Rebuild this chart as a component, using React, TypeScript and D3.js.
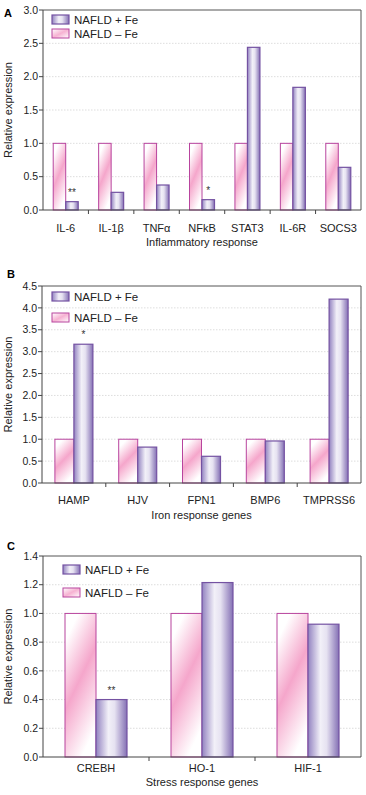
import React from 'react'
import * as d3 from 'd3'

// series names
const seriesNames = ['NAFLD + Fe', 'NAFLD \u2013 Fe']

// panel A: inflammatory response
const inflammCats = ['IL-6', 'IL-1\u03B2', 'TNF\u03B1', 'NFkB', 'STAT3', 'IL-6R', 'SOCS3']
const inflammMinusFe = [1, 1, 1, 1, 1, 1, 1]
const inflammPlusFe = [0.125, 0.265, 0.375, 0.155, 2.44, 1.84, 0.64]
const inflammSig = ['**', '', '', '*', '', '', '']
const inflammTicks = [0, 0.5, 1.0, 1.5, 2.0, 2.5, 3.0]

// panel B: iron response genes
const ironCats = ['HAMP', 'HJV', 'FPN1', 'BMP6', 'TMPRSS6']
const ironMinusFe = [1, 1, 1, 1, 1]
const ironPlusFe = [3.17, 0.82, 0.61, 0.96, 4.2]
const ironSig = ['*', '', '', '', '']
const ironTicks = [0, 0.5, 1.0, 1.5, 2.0, 2.5, 3.0, 3.5, 4.0, 4.5]

// panel C: stress response genes
const stressCats = ['CREBH', 'HO-1', 'HIF-1']
const stressMinusFe = [1, 1, 1]
const stressPlusFe = [0.4, 1.215, 0.925]
const stressSig = ['**', '', '']
const stressTicks = [0, 0.2, 0.4, 0.6, 0.8, 1.0, 1.2, 1.4]

const FONT = '"Liberation Sans Narrow", "Liberation Sans", Arial, sans-serif'
const PINK_STROKE = '#b8449e'
const PURPLE_STROKE = '#7452a2'

const Panel = ({ letter, letterPos, cats, minus, plus, sig, ticks, title, box, barW, legend, tickDy, titleDy }) => {
  const { left, right, top, bottom } = box
  const x = d3.scaleBand().domain(cats).range([left, right])
  const y = d3.scaleLinear().domain([0, ticks[ticks.length - 1]]).range([bottom, top])
  const fmt = d3.format('.1f')
  const mid = (top + bottom) / 2

  return (
    <g fontFamily={FONT}>
      <text x={letterPos[0]} y={letterPos[1]} fontSize={11} fontWeight="bold" fontFamily="Liberation Sans, Arial">{letter}</text>
      {/* grid */}
      {ticks.slice(1, -1).map(t => (
        <line key={'g' + t} x1={left} x2={right} y1={y(t)} y2={y(t)} stroke="#d4d4d4" strokeWidth={0.8} strokeDasharray="1.5,1.5" />
      ))}
      {/* bars */}
      {cats.map((c, i) => {
        const cx = x(c) + x.bandwidth() / 2
        return (
          <g key={c}>
            <rect x={cx - barW} y={y(minus[i])} width={barW} height={bottom - y(minus[i])}
              fill="url(#pinkGrad)" stroke={PINK_STROKE} strokeWidth={1} />
            <rect x={cx} y={y(plus[i])} width={barW} height={bottom - y(plus[i])}
              fill="url(#purpleGrad)" stroke={PURPLE_STROKE} strokeWidth={1.2} />
            {sig[i] && (
              <text x={cx + barW / 2} y={y(plus[i]) - 6} fontSize={10} textAnchor="middle" fill="#333">{sig[i]}</text>
            )}
          </g>
        )
      })}
      {/* frame */}
      <line x1={left} x2={right} y1={top} y2={top} stroke="#555" strokeWidth={1} />
      <line x1={right} x2={right} y1={top} y2={bottom} stroke="#555" strokeWidth={1} />
      <line x1={left} x2={left} y1={top} y2={bottom} stroke="#444" strokeWidth={1} />
      <line x1={left} x2={right} y1={bottom} y2={bottom} stroke="#444" strokeWidth={1} />
      {/* y axis */}
      {ticks.map(t => (
        <g key={'y' + t}>
          <line x1={left - 4} x2={left} y1={y(t)} y2={y(t)} stroke="#444" />
          <text x={left - 5} y={y(t)} dy="0.35em" fontSize={10.5} textAnchor="end" fill="#222">{fmt(t)}</text>
        </g>
      ))}
      {/* x axis */}
      {cats.slice(1).map(c => (
        <line key={'xt' + c} x1={x(c)} x2={x(c)} y1={bottom} y2={bottom + 4} stroke="#444" />
      ))}
      {cats.map(c => (
        <text key={'xl' + c} x={x(c) + x.bandwidth() / 2} y={bottom + tickDy} fontSize={11} textAnchor="middle" fill="#222">{c}</text>
      ))}
      <text x={(left + right) / 2} y={bottom + titleDy} fontSize={11} textAnchor="middle" fill="#222">{title}</text>
      <text transform={`translate(12,${mid}) rotate(-90)`} fontSize={11} textAnchor="middle" fill="#222">Relative expression</text>
      {/* legend */}
      <g>
        <rect x={legend.x} y={legend.y} width={17} height={9} fill="url(#purpleGrad)" stroke={PURPLE_STROKE} strokeWidth={1.2} />
        <text x={legend.x + 22} y={legend.y + 4.5} dy="0.35em" fontSize={11.5} fill="#222">{seriesNames[0]}</text>
        <rect x={legend.x} y={legend.y + legend.gap} width={17} height={9} fill="url(#pinkGradH)" stroke={PINK_STROKE} strokeWidth={1} />
        <text x={legend.x + 22} y={legend.y + legend.gap + 4.5} dy="0.35em" fontSize={11.5} fill="#222">{seriesNames[1]}</text>
      </g>
    </g>
  )
}

const App = () => {
  return (
    <svg width={366} height={795} style={{ position: 'absolute', left: 0, top: 0, background: '#fff' }}>
      <defs>
        <linearGradient id="pinkGrad" x1="0.3" y1="0" x2="0.75" y2="1">
          <stop offset="0.05" stopColor="#ffffff" />
          <stop offset="0.45" stopColor="#f5a6cb" />
          <stop offset="0.92" stopColor="#ffffff" />
        </linearGradient>
        <linearGradient id="pinkGradH" x1="0" y1="0" x2="1" y2="1">
          <stop offset="0" stopColor="#ffffff" />
          <stop offset="0.5" stopColor="#f6b2d2" />
          <stop offset="1" stopColor="#ffffff" />
        </linearGradient>
        <linearGradient id="purpleGrad" x1="0" y1="0" x2="1" y2="0">
          <stop offset="0" stopColor="#9282c0" />
          <stop offset="0.4" stopColor="#f2f0f8" />
          <stop offset="0.6" stopColor="#e6e2f1" />
          <stop offset="1" stopColor="#8470b4" />
        </linearGradient>
      </defs>
      <rect width={366} height={795} fill="#fff" />
      <Panel letter="A" letterPos={[4, 17]} cats={inflammCats} minus={inflammMinusFe} plus={inflammPlusFe}
        sig={inflammSig} ticks={inflammTicks} title="Inflammatory response"
        box={{ left: 43, right: 361, top: 10, bottom: 210 }} barW={12.5}
        legend={{ x: 52, y: 15, gap: 14 }} tickDy={22} titleDy={36} />
      <Panel letter="B" letterPos={[7, 278]} cats={ironCats} minus={ironMinusFe} plus={ironPlusFe}
        sig={ironSig} ticks={ironTicks} title="Iron response genes"
        box={{ left: 42, right: 361, top: 286, bottom: 483 }} barW={19}
        legend={{ x: 52, y: 292, gap: 21 }} tickDy={21} titleDy={36} />
      <Panel letter="C" letterPos={[7, 550]} cats={stressCats} minus={stressMinusFe} plus={stressPlusFe}
        sig={stressSig} ticks={stressTicks} title="Stress response genes"
        box={{ left: 43, right: 361, top: 556, bottom: 757 }} barW={31}
        legend={{ x: 63, y: 565, gap: 23 }} tickDy={15} titleDy={29} />
    </svg>
  )
}

export default App
